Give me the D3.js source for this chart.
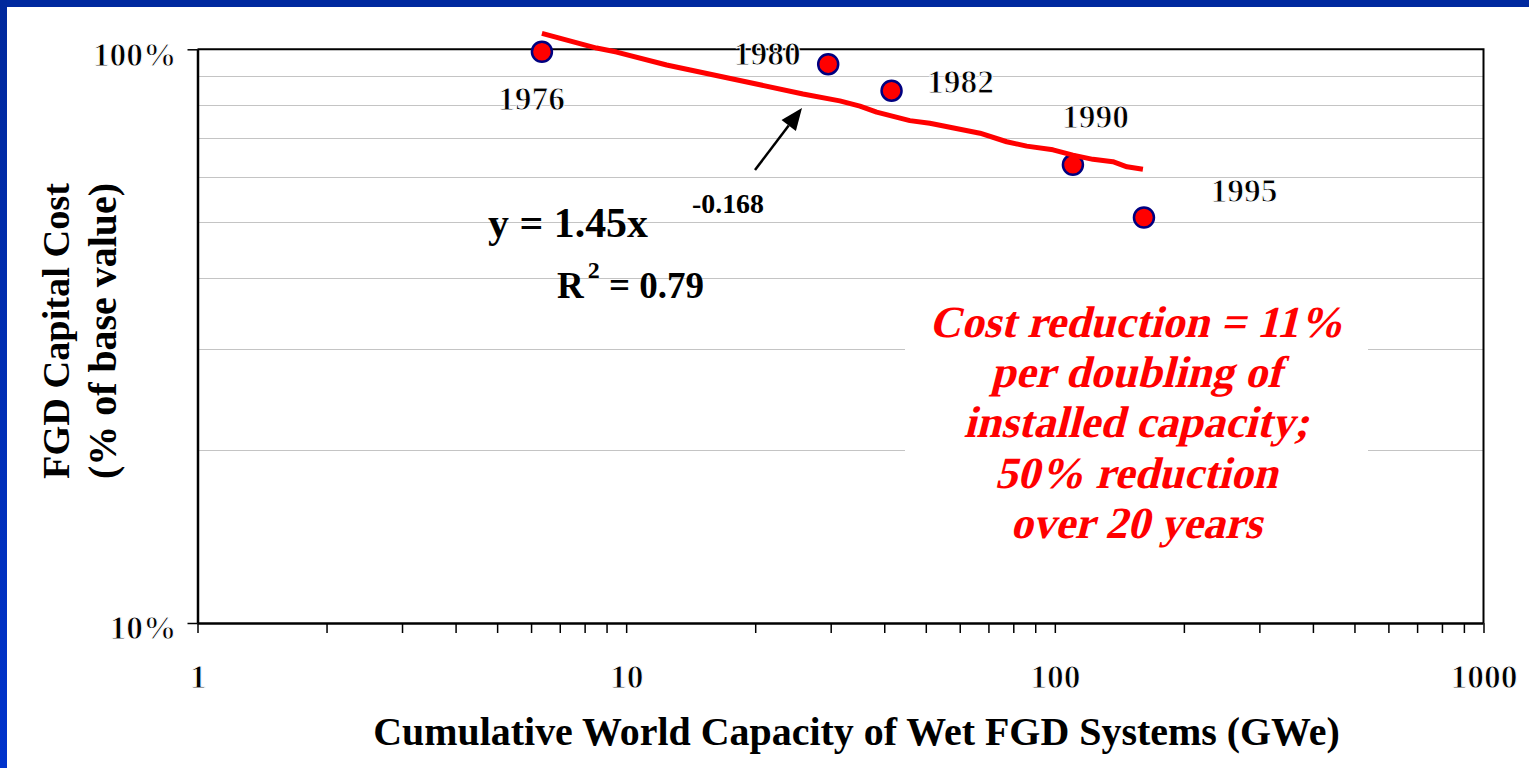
<!DOCTYPE html>
<html>
<head>
<meta charset="utf-8">
<script src="https://cdn.jsdelivr.net/npm/d3@7"></script>
<style>
  html, body { margin: 0; padding: 0; background: #fff; }
  svg { display: block; }
</style>
</head>
<body>
<svg id="chart" width="1529" height="768"></svg>
<script>
// data
const years = ["1976", "1980", "1982", "1990", "1995"];
const capacity = [6.36, 29.6, 41.6, 110.2, 161.4];   // GWe
const costPct = [99.0, 94.2, 84.7, 62.9, 50.9];      // % of base value

// fitted line as drawn (traced points)
const trendX = [6.36, 8.53, 9.50, 12.43, 25.85, 31.5, 35.1, 38.4, 45.9, 51.1, 66.9, 77.2, 86.0, 99.0, 110.2, 122.7, 136.6, 147.3, 160.5];
const trendY = [106.6, 100.5, 98.9, 93.9, 83.6, 81.3, 79.6, 77.7, 75.1, 74.3, 71.4, 69.0, 67.8, 66.8, 65.4, 64.3, 63.7, 62.4, 61.8];

const xTickValues = [1, 10, 100, 1000];
const xTickLabels = ["1", "10", "100", "1000"];
const yTickValues = [10, 100];
const yTickLabels = ["10%", "100%"];
const gridValues = [20, 30, 40, 50, 60, 70, 80, 90];

const xTitle = "Cumulative World Capacity of Wet FGD Systems (GWe)";
const yTitle = ["FGD Capital Cost", "(% of base value)"];
const noteLines = ["Cost reduction = 11%", "per doubling of", "installed capacity;", "50% reduction", "over 20 years"];

// layout
const W = 1529, H = 768;
const plot = { left: 197.5, right: 1483.5, top: 49.3, bottom: 623 };
const SERIF = '"Liberation Serif", serif';
// year label offsets from the point centre (dx = centre, dy = baseline)
const labelOffsets = [[-10.5, 58], [-61, 1], [69, 2], [22.5, -37], [100, -16]];

// only the bold serif face renders here, so "regular" text is the bold face
// eroded by a thin white edge
function regular(sel) {
  return sel.attr("font-family", SERIF).attr("font-weight", "bold")
    .attr("stroke", "#fff").attr("stroke-width", 1.0);
}

const svg = d3.select("#chart");

// shrink/grow a text's font so it spans the given width
function fitWidth(sel, width) {
  const w = sel.node().getComputedTextLength();
  const fs = parseFloat(sel.attr("font-size"));
  sel.attr("font-size", (fs * width / w).toFixed(2));
  return fs * width / w;
}

// slide border: blue strips on top and left
const grad = svg.append("defs").append("linearGradient")
  .attr("id", "leftbar").attr("x1", 0).attr("y1", 0).attr("x2", 0).attr("y2", 1);
grad.append("stop").attr("offset", "0%").attr("stop-color", "#00289c");
grad.append("stop").attr("offset", "100%").attr("stop-color", "#0033cc");
svg.append("rect").attr("x", 0).attr("y", 0).attr("width", W).attr("height", 7).attr("fill", "#00299f");
svg.append("rect").attr("x", 0).attr("y", 0).attr("width", 7).attr("height", H).attr("fill", "url(#leftbar)");

const x = d3.scaleLog().domain([1, 1000]).range([plot.left, plot.right]);
const y = d3.scaleLog().domain([10, 100]).range([plot.bottom, plot.top]);

// gridlines
svg.append("g")
  .selectAll("line")
  .data(gridValues)
  .join("line")
  .attr("x1", plot.left).attr("x2", plot.right)
  .attr("y1", d => Math.round(y(d)) + 0.5).attr("y2", d => Math.round(y(d)) + 0.5)
  .attr("stroke", "#c4c4c4")
  .attr("stroke-width", 1);

// white box behind the note
svg.append("rect")
  .attr("x", 905).attr("y", 296).attr("width", 463).attr("height", 258)
  .attr("fill", "#fff");

// frame top + right
svg.append("path")
  .attr("d", `M${plot.left},${plot.top}H${plot.right}V${plot.bottom}`)
  .attr("fill", "none").attr("stroke", "#000").attr("stroke-width", 2);

// x axis with minor ticks
const minorX = [];
for (let p = 1; p < 1000; p *= 10) for (let k = 1; k < 10; k++) minorX.push(p * k);
minorX.push(1000);
const xAxis = d3.axisBottom(x)
  .tickValues(minorX)
  .tickSize(10)
  .tickPadding(31)
  .tickFormat(d => {
    const i = xTickValues.indexOf(d);
    return i >= 0 ? xTickLabels[i] : "";
  });
const gx = svg.append("g")
  .attr("transform", `translate(0,${plot.bottom})`)
  .call(xAxis);
gx.select(".domain").attr("stroke", "#000").attr("stroke-width", 2.5).attr("d", `M${plot.left},0.5H${plot.right}`);
gx.selectAll(".tick line").attr("stroke", "#000").attr("stroke-width", 1.5);
gx.selectAll(".tick text")
  .attr("font-size", 33.5).attr("fill", "#000")
  .call(regular);

// y axis
const yAxis = d3.axisLeft(y)
  .tickValues(yTickValues)
  .tickSize(10)
  .tickPadding(11)
  .tickFormat(d => yTickLabels[yTickValues.indexOf(d)]);
const gy = svg.append("g")
  .attr("transform", `translate(${plot.left},0)`)
  .call(yAxis);
gy.select(".domain").attr("stroke", "#000").attr("stroke-width", 2.5).attr("d", `M0.5,${plot.top}V${plot.bottom}`);
gy.selectAll(".tick line").attr("stroke", "#000").attr("stroke-width", 1.5);
gy.selectAll(".tick text")
  .attr("font-size", 33.5).attr("fill", "#000").attr("dy", "0.47em")
  .call(regular);

// axis titles
const xt = svg.append("text")
  .attr("x", 856.5).attr("y", 745)
  .attr("text-anchor", "middle")
  .attr("font-family", SERIF)
  .attr("font-weight", "bold").attr("font-size", 40)
  .text(xTitle);
fitWidth(xt, 967);

const ytBase = [69, 116];
yTitle.forEach((t, i) => {
  const s = svg.append("text")
    .attr("transform", `translate(${ytBase[i]},331) rotate(-90)`)
    .attr("text-anchor", "middle")
    .attr("font-family", SERIF)
    .attr("font-weight", "bold").attr("font-size", 38)
    .text(t);
  fitWidth(s, 296);
});

// data points
const pts = years.map((yr, i) => ({ year: yr, x: capacity[i], y: costPct[i] }));
svg.append("g")
  .selectAll("circle")
  .data(pts)
  .join("circle")
  .attr("cx", d => x(d.x))
  .attr("cy", d => y(d.y))
  .attr("r", 10)
  .attr("fill", "#ff0000")
  .attr("stroke", "#000080")
  .attr("stroke-width", 2.5);

// trend line
const trend = trendX.map((v, i) => [v, trendY[i]]);
svg.append("path")
  .datum(trend)
  .attr("fill", "none")
  .attr("stroke", "#ff0000")
  .attr("stroke-width", 5)
  .attr("stroke-linejoin", "round")
  .attr("d", d3.line().x(d => x(d[0])).y(d => y(d[1])));

// year labels
const yl = svg.append("g")
  .selectAll("text")
  .data(pts)
  .join("text")
  .attr("x", (d, i) => x(d.x) + labelOffsets[i][0])
  .attr("y", (d, i) => y(d.y) + labelOffsets[i][1])
  .attr("text-anchor", "middle")
  .attr("font-size", 33.5)
  .attr("fill", "#000")
  .call(regular)
  .text(d => d.year);

// arrow pointing at the trend line
const tail = [755, 170], tip = [802, 108];
const ang = Math.atan2(tip[1] - tail[1], tip[0] - tail[0]);
const hl = 22, hw = 9;
const base = [tip[0] - hl * Math.cos(ang), tip[1] - hl * Math.sin(ang)];
svg.append("line")
  .attr("x1", tail[0]).attr("y1", tail[1])
  .attr("x2", base[0]).attr("y2", base[1])
  .attr("stroke", "#000").attr("stroke-width", 2.5);
svg.append("path")
  .attr("d", `M${tip[0]},${tip[1]}` +
    `L${base[0] + hw * Math.sin(ang)},${base[1] - hw * Math.cos(ang)}` +
    `L${base[0] - hw * Math.sin(ang)},${base[1] + hw * Math.cos(ang)}Z`)
  .attr("fill", "#000");

// equation
const eq = svg.append("text")
  .attr("x", 488).attr("y", 237)
  .attr("font-family", SERIF)
  .attr("font-weight", "bold").attr("font-size", 40)
  .text("y = 1.45x");
fitWidth(eq, 160);
const ex = svg.append("text")
  .attr("x", 692).attr("y", 213)
  .attr("font-family", SERIF)
  .attr("font-weight", "bold").attr("font-size", 26)
  .text("-0.168");
fitWidth(ex, 72);

const r2 = svg.append("text")
  .attr("x", 557).attr("y", 298)
  .attr("font-family", SERIF)
  .attr("font-weight", "bold").attr("font-size", 37);
r2.append("tspan").text("R");
r2.append("tspan").attr("dx", 4).attr("dy", -20).attr("font-size", 24).text("2");
r2.append("tspan").attr("dy", 20).text(" = 0.79");

// note on the right: bold face slanted by hand
const note = svg.append("g")
  .attr("font-weight", "bold")
  .attr("font-family", SERIF)
  .attr("fill", "#ff0000").attr("text-anchor", "middle");
const slant = " skewX(-14)";
const first = note.append("text")
  .attr("transform", `translate(1136,336.5)${slant}`)
  .attr("font-size", 44)
  .text(noteLines[0]);
const noteSize = fitWidth(first, 414);
note.selectAll("text.rest")
  .data(noteLines.slice(1))
  .join("text")
  .attr("class", "rest")
  .attr("transform", (d, i) => `translate(1136,${336.5 + 50.4 * (i + 1)})${slant}`)
  .attr("font-size", noteSize.toFixed(2))
  .text(d => d);
</script>
</body>
</html>
